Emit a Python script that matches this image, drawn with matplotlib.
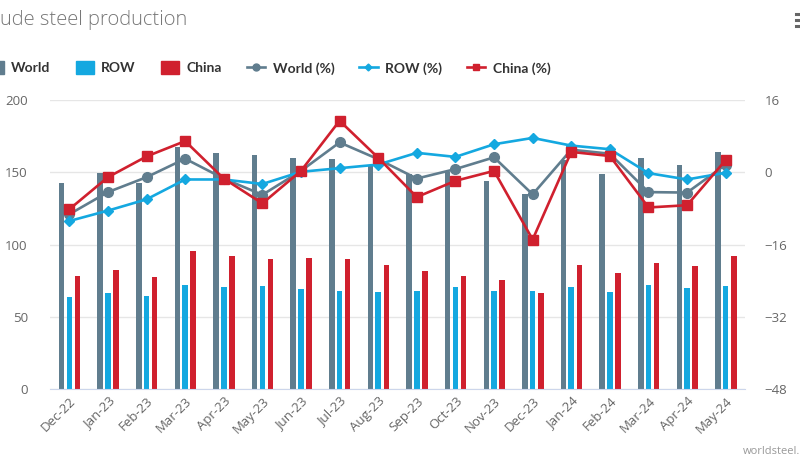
import matplotlib
matplotlib.use("Agg")
import matplotlib.pyplot as plt
import numpy as np
from matplotlib.lines import Line2D
from matplotlib.patches import Patch

months = ['Dec-22', 'Jan-23', 'Feb-23', 'Mar-23', 'Apr-23', 'May-23', 'Jun-23', 'Jul-23',
          'Aug-23', 'Sep-23', 'Oct-23', 'Nov-23', 'Dec-23', 'Jan-24', 'Feb-24', 'Mar-24',
          'Apr-24', 'May-24']
world = [142.3, 149.7, 142.3, 167.7, 163.5, 161.7, 160.1, 159.2, 155.0, 148.5, 150.0, 144.2,
         135.0, 158.5, 149.0, 160.1, 155.1, 164.1]
row = [63.4, 66.7, 64.4, 72.2, 70.6, 71.3, 69.0, 68.0, 67.1, 68.0, 70.4, 68.0, 68.0, 70.4,
       67.2, 72.2, 69.7, 71.3]
china = [78.4, 82.6, 77.7, 95.3, 92.3, 89.7, 90.7, 89.7, 85.8, 81.7, 78.4, 75.2, 66.4, 85.8,
         80.3, 87.4, 85.1, 92.3]
world_pct = [-9.3, -4.4, -1.1, 3.0, -1.4, -5.0, 0.3, 6.6, 2.9, -1.4, 0.7, 3.3, -4.9, 5.0,
             4.1, -4.4, -4.5, 1.7]
row_pct = [-10.8, -8.5, -6.0, -1.6, -1.6, -2.6, 0.1, 0.9, 1.7, 4.3, 3.4, 6.2, 7.6, 5.9, 5.1,
           -0.2, -1.6, -0.1]
china_pct = [-8.2, -1.1, 3.5, 6.9, -1.4, -6.9, 0.3, 11.4, 3.2, -5.5, -1.9, 0.3, -14.9, 4.5,
             3.6, -7.8, -7.3, 2.7]
left_ticks = [0, 50, 100, 150, 200]
right_ticks = [-48, -32, -16, 0, 16]

C_WORLD = '#607d8e'
C_ROW = '#14a8e0'
C_CHINA = '#d0202e'
TXT = '#666666'

plt.rcParams['font.family'] = ['Open Sans', 'DejaVu Sans']

fig = plt.figure(figsize=(8, 4.75), dpi=100)
ax = fig.add_axes([50/800, 1-389/475, 695/800, 289/475])
x = np.arange(len(months))
bw = 0.145
ax.bar(x - 0.2, world, width=bw, color=C_WORLD, zorder=2)
ax.bar(x, row, width=bw, color=C_ROW, zorder=2)
ax.bar(x + 0.21, china, width=bw, color=C_CHINA, zorder=2)
ax.set_xlim(-0.5, len(months) - 0.5)
ax.set_ylim(0, 200)
ax.set_yticks(left_ticks)
ax.yaxis.grid(True, color='#e6e6e6', linewidth=1, zorder=0)
ax.set_axisbelow(True)
for s in ['top', 'right', 'left']:
    ax.spines[s].set_visible(False)
ax.spines['bottom'].set_color('#ccd6eb')
ax.tick_params(axis='y', length=0, pad=16, labelsize=9.5, labelcolor=TXT)
ax.tick_params(axis='x', length=0, pad=4, labelsize=9.5, labelcolor=TXT)
ax.set_xticks(x)
ax.set_xticklabels(months, rotation=45, ha='right', va='top', rotation_mode='anchor')

ax2 = ax.twinx()
ax2.set_ylim(-48, 16)
ax2.set_yticks(right_ticks)
for s in ax2.spines.values():
    s.set_visible(False)
ax2.tick_params(axis='y', length=0, pad=14, labelsize=9.5, labelcolor=TXT)
ax2.plot(x, world_pct, color=C_WORLD, lw=1.9, marker='o', ms=7, zorder=3)
ax2.plot(x, row_pct, color=C_ROW, lw=1.9, marker='D', ms=5, zorder=4)
ax2.plot(x, china_pct, color=C_CHINA, lw=1.9, marker='s', ms=7, zorder=5)

fig.text(0.0, 1 - 20/475, 'ude steel production', fontsize=14.5, color='#777777',
         ha='left', va='center', fontweight='light')

handles = [Patch(color=C_WORLD), Patch(color=C_ROW), Patch(color=C_CHINA),
           Line2D([], [], color=C_WORLD, lw=1.9, marker='o', ms=5),
           Line2D([], [], color=C_ROW, lw=1.9, marker='D', ms=3.5),
           Line2D([], [], color=C_CHINA, lw=1.9, marker='s', ms=5)]
labels = ['World', 'ROW', 'China', 'World (%)', 'ROW (%)', 'China (%)']
leg = fig.legend(handles, labels, loc='center left', bbox_to_anchor=(-20/800, 1 - 68/475),
                 ncol=6, frameon=False, handlelength=1.3, handleheight=1.0,
                 handletextpad=0.55, columnspacing=1.8, borderaxespad=0,
                 prop={'family': ['Lato', 'DejaVu Sans'], 'weight': 'bold', 'size': 10})
for t in leg.get_texts():
    t.set_color('#333333')

fig.text(1.0, 1 - 452/475, 'worldsteel.', fontsize=8, color='#999999', ha='right', va='center')
for yy in (14, 20, 26):
    fig.add_artist(Line2D([796/800, 800/800], [1 - yy/475, 1 - yy/475], color='#666666', lw=2.2,
                          transform=fig.transFigure))

fig.savefig('out.png', dpi=100)
